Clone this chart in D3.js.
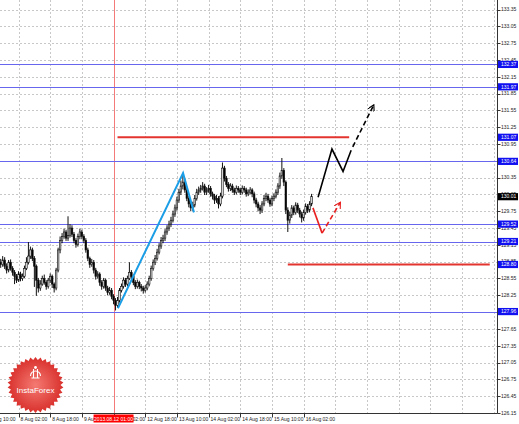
<!DOCTYPE html>
<html><head><meta charset="utf-8">
<script src="https://cdn.jsdelivr.net/npm/d3@7"></script>
<style>html,body{margin:0;padding:0;background:#fff;}svg{display:block;font-family:"Liberation Sans",Arial,sans-serif;}</style>
</head><body>
<svg id="c" width="519" height="424"></svg>
<script>
// ---------- DATA ----------
const firstOpen = 128.84;
const closes = [
128.80,128.88,128.77,128.70,128.84,128.73,128.66,128.59,128.52,128.63,
128.55,128.59,128.73,128.84,128.95,129.06,128.91,128.77,128.52,128.38,
128.45,128.55,128.48,128.41,128.52,128.59,128.45,128.38,128.70,129.06,
129.23,129.30,129.38,129.27,129.32,129.45,129.34,129.23,129.16,129.30,
129.38,129.30,129.23,129.06,128.91,128.80,128.84,128.70,128.59,128.63,
128.48,128.41,128.52,128.38,128.30,128.34,128.23,128.16,128.07,128.16,
128.34,128.41,128.52,128.45,128.55,128.66,128.59,128.48,128.41,128.48,
128.41,128.38,128.34,128.38,128.45,128.55,128.73,128.84,128.91,129.02,
129.13,129.23,129.27,129.38,129.45,129.52,129.59,129.70,129.81,129.95,
130.09,130.20,130.27,130.13,129.98,129.88,129.81,129.86,129.98,130.09,
130.13,130.16,130.20,130.09,130.13,130.16,130.06,130.02,129.95,129.98,
129.88,130.02,130.52,130.34,130.23,130.16,130.20,130.13,130.09,130.16,
130.13,130.09,130.16,130.13,130.06,130.09,130.13,130.06,129.95,129.88,
129.81,129.77,129.88,129.98,130.02,129.95,129.88,129.98,130.02,130.09,
130.20,130.38,130.48,130.27,129.77,129.59,129.68,129.81,129.73,129.86,
129.77,129.70,129.63,129.73,129.84,129.77,129.88,130.01];
const highs = [
128.90,128.95,128.93,128.82,128.88,128.89,128.77,128.70,128.63,128.68,
128.67,128.64,128.78,128.93,129.20,129.12,129.10,128.95,128.80,128.56,
128.52,128.60,128.62,128.52,128.56,128.64,128.62,128.48,128.74,129.10,
129.30,129.36,129.44,129.42,129.66,129.52,129.50,129.38,129.27,129.35,
129.44,129.42,129.34,129.27,129.10,128.94,128.90,128.88,128.74,128.68,
128.66,128.52,128.56,128.55,128.42,128.40,128.38,128.27,128.20,128.22,
128.38,128.46,128.57,128.56,128.60,128.84,128.70,128.62,128.52,128.53,
128.51,128.45,128.42,128.43,128.50,128.60,128.78,128.89,128.97,129.08,
129.18,129.29,129.33,129.43,129.50,129.58,129.65,129.76,129.87,130.01,
130.15,130.30,130.40,130.32,130.17,130.02,129.92,129.92,130.04,130.15,
130.19,130.22,130.27,130.24,130.18,130.22,130.20,130.10,130.06,130.04,
130.02,130.08,130.62,130.56,130.38,130.27,130.25,130.24,130.17,130.21,
130.20,130.17,130.21,130.20,130.17,130.14,130.18,130.16,130.10,129.99,
129.92,129.86,129.93,130.04,130.08,130.06,129.99,130.03,130.07,130.14,
130.25,130.44,130.70,130.52,130.30,129.82,129.74,129.86,129.85,129.91,
129.90,129.81,129.74,129.78,129.89,129.88,129.93,130.06];
const lows = [
128.74,128.76,128.72,128.64,128.66,128.69,128.60,128.45,128.47,128.49,
128.50,128.51,128.56,128.70,128.80,128.90,128.86,128.40,128.24,128.30,
128.33,128.42,128.44,128.35,128.37,128.47,128.38,128.30,128.34,128.66,
129.00,129.18,129.26,129.22,129.22,129.28,129.29,129.18,129.10,129.12,
129.25,129.25,129.18,129.01,128.86,128.74,128.76,128.64,128.53,128.55,
128.42,128.35,128.37,128.33,128.25,128.26,128.18,128.09,127.98,128.03,
128.12,128.30,128.37,128.40,128.41,128.52,128.54,128.43,128.36,128.37,
128.36,128.32,128.28,128.30,128.34,128.41,128.51,128.69,128.79,128.87,
128.98,129.08,129.18,129.22,129.33,129.40,129.47,129.55,129.65,129.76,
129.90,130.04,130.14,130.08,129.93,129.82,129.75,129.76,129.82,129.94,
130.04,130.08,130.12,130.04,130.04,130.08,130.01,129.96,129.88,129.90,
129.80,129.84,129.98,130.28,130.18,130.10,130.11,130.08,130.04,130.05,
130.08,130.04,130.05,130.08,130.01,130.02,130.05,130.00,129.89,129.82,
129.75,129.70,129.72,129.84,129.93,129.90,129.83,129.84,129.93,129.98,
130.04,130.15,130.33,130.20,129.70,129.38,129.53,129.63,129.68,129.69,
129.72,129.64,129.55,129.58,129.69,129.72,129.73,129.84];

const priceTicks = ["126.15","126.45","126.75","127.05","127.35","127.65","127.95","128.25","128.55","128.85","129.15","129.45","129.75","130.05","130.35","130.65","130.95","131.25","131.55","131.85","132.15","132.45","132.75","133.05","133.35"];
const timeTickBars = [-7,9,25,41,57,73,89,105,121,137,153];
const timeTickLabels = ["7 Aug 10:00","8 Aug 02:00","8 Aug 18:00","9 Aug 10:00","12 Aug 02:00","12 Aug 18:00","13 Aug 10:00","14 Aug 02:00","14 Aug 18:00","15 Aug 10:00","16 Aug 02:00"];
const blueLevels = [132.37,131.97,130.64,129.52,129.21,127.96];
const blueLevelLabels = ["132.37","131.97","130.64","129.52","129.21","127.96"];
const redLevels = [131.07,128.80];
const redLevelLabels = ["131.07","128.80"];
const redLevelFrom = [59,145];
const redLevelTo = [176,247];
const currentPrice = 130.01;
const cursorBar = 57;
const cursorLabel = "2013.08.12 01:00";
const trendBars = [59.2,92.1,97.6];
const trendPrices = [128.02,130.43,129.73];
const blackPathBars = [160.3,167.3,172.9,177.0];
const blackPathPrices = [130.00,130.86,130.46,130.84];
const blackDashBars = [177.8,188.3];
const blackDashPrices = [130.90,131.64];
const redPathBars = [157.7,162.3];
const redPathPrices = [129.81,129.36];
const redDashBars = [162.3,171.4];
const redDashPrices = [129.36,129.90];

// ---------- CHART ----------
const svg = d3.select("#c");
const W = 519, H = 424, plotR = 497.5, plotB = 413.5;
const y = d3.scaleLinear().domain([126.15,133.35]).range([413,9.5]);
const x = d3.scaleLinear().domain([0,16]).range([0.7,0.7+31.68]);

svg.append("rect").attr("width",W).attr("height",H).attr("fill","#fff");
const defs = svg.append("defs");
defs.append("clipPath").attr("id","clip").append("rect").attr("x",0).attr("y",0).attr("width",plotR).attr("height",plotB);
const g = svg.append("g").attr("clip-path","url(#clip)");

// grid
const gridBars = d3.range(-7,260,16);
g.selectAll(".vg").data(gridBars).join("line")
 .attr("x1",d=>Math.round(x(d))+0.5).attr("x2",d=>Math.round(x(d))+0.5)
 .attr("y1",0).attr("y2",plotB)
 .attr("stroke","#c8c8c8").attr("stroke-width",1).attr("stroke-dasharray","2,2");
g.selectAll(".hg").data(priceTicks).join("line")
 .attr("y1",d=>Math.round(y(+d))+0.5).attr("y2",d=>Math.round(y(+d))+0.5)
 .attr("x1",0).attr("x2",plotR)
 .attr("stroke","#c8c8c8").attr("stroke-width",1).attr("stroke-dasharray","2,2");

// logo
const logo = svg.append("g").attr("transform","translate(35.5,385)");
const grad = defs.append("radialGradient").attr("id","lg");
grad.append("stop").attr("offset","0%").attr("stop-color","#f47a72");
grad.append("stop").attr("offset","100%").attr("stop-color","#d9302c");
const nT = 34, pts = [];
for (let k=0;k<nT*2;k++){ const a = k*Math.PI/nT; const r = k%2===0?28:25; pts.push([r*Math.sin(a), -r*Math.cos(a)]); }
logo.append("path").attr("d",d3.line()(pts)+"Z").attr("fill","url(#lg)");
const ic = logo.append("g").attr("transform","translate(0,-12)").attr("fill","none").attr("stroke","#fff").attr("stroke-width",1.1);
ic.append("path").attr("d","M-5,3 A5,5 0 0 1 5,3");
ic.append("path").attr("d","M-2,-4 L-2,5 M2,-4 L2,5 M-4,5 L4,5");
ic.append("circle").attr("cx",0).attr("cy",-5.5).attr("r",1.4).attr("fill","#fff").attr("stroke","none");
logo.append("text").attr("x",0).attr("y",8).attr("text-anchor","middle").attr("fill","#fff")
 .attr("font-size","8px").text("InstaForex");

// cursor line
g.append("line").attr("x1",Math.round(x(cursorBar))+0.5).attr("x2",Math.round(x(cursorBar))+0.5)
 .attr("y1",0).attr("y2",plotB).attr("stroke","#f47a7a").attr("stroke-width",1);

// blue levels
g.selectAll(".bl").data(blueLevels).join("line")
 .attr("x1",0).attr("x2",plotR).attr("y1",d=>Math.round(y(d))+0.5).attr("y2",d=>Math.round(y(d))+0.5)
 .attr("stroke","#6666ee").attr("stroke-width",1);

// candles
const bars = closes.map((c,i)=>({i, o: i===0?firstOpen:closes[i-1], c, h: highs[i], l: lows[i]}));
const cg = g.append("g");
cg.selectAll(".w").data(bars).join("line")
 .attr("x1",d=>x(d.i)).attr("x2",d=>x(d.i)).attr("y1",d=>y(d.h)).attr("y2",d=>y(d.l))
 .attr("stroke","#111").attr("stroke-width",1);
cg.selectAll(".b").data(bars).join("rect")
 .attr("x",d=>x(d.i)-0.8).attr("width",1.6)
 .attr("y",d=>y(Math.max(d.o,d.c))).attr("height",d=>Math.max(0.8,Math.abs(y(d.o)-y(d.c))))
 .attr("fill",d=>d.c>=d.o?"#ddd":"#000").attr("stroke","#111").attr("stroke-width",0.6);

// red levels
redLevels.forEach((lv,k)=>{
  g.append("line").attr("x1",x(redLevelFrom[k])).attr("x2",x(redLevelTo[k]))
   .attr("y1",y(lv)).attr("y2",y(lv)).attr("stroke","#e3342f").attr("stroke-width",2);
});

// trend line
const ln = d3.line().x(d=>x(d[0])).y(d=>y(d[1]));
g.append("path").attr("d",ln(trendBars.map((b,k)=>[b,trendPrices[k]])))
 .attr("fill","none").attr("stroke","#1b9ee6").attr("stroke-width",2);

// arrows
function marker(id,color){
  defs.append("marker").attr("id",id).attr("viewBox","0 0 10 10").attr("refX",8).attr("refY",5)
   .attr("markerWidth",7).attr("markerHeight",7).attr("orient","auto").attr("markerUnits","userSpaceOnUse")
   .append("path").attr("d","M0,0 L9,5 L0,10").attr("fill","none").attr("stroke",color).attr("stroke-width",1.6);
}
marker("ab","#000"); marker("ar","#e82020");
g.append("path").attr("d",ln(blackPathBars.map((b,k)=>[b,blackPathPrices[k]])))
 .attr("fill","none").attr("stroke","#000").attr("stroke-width",1.6);
g.append("path").attr("d",ln(blackDashBars.map((b,k)=>[b,blackDashPrices[k]])))
 .attr("fill","none").attr("stroke","#000").attr("stroke-width",1.6).attr("stroke-dasharray","5,3").attr("marker-end","url(#ab)");
g.append("path").attr("d",ln(redPathBars.map((b,k)=>[b,redPathPrices[k]])))
 .attr("fill","none").attr("stroke","#e82020").attr("stroke-width",1.6);
g.append("path").attr("d",ln(redDashBars.map((b,k)=>[b,redDashPrices[k]])))
 .attr("fill","none").attr("stroke","#e82020").attr("stroke-width",1.6).attr("stroke-dasharray","5,3").attr("marker-end","url(#ar)");

// frame
svg.append("line").attr("x1",plotR).attr("x2",plotR).attr("y1",0).attr("y2",plotB).attr("stroke","#333");
svg.append("line").attr("x1",0).attr("x2",plotR).attr("y1",plotB).attr("y2",plotB).attr("stroke","#333");

// right axis
const fs = "5px";
const ra = svg.append("g");
ra.selectAll("line").data(priceTicks).join("line")
 .attr("x1",plotR).attr("x2",plotR+3).attr("y1",d=>Math.round(y(+d))+0.5).attr("y2",d=>Math.round(y(+d))+0.5).attr("stroke","#333");
ra.selectAll("text").data(priceTicks).join("text")
 .attr("x",501).attr("y",d=>y(+d)+1.8).attr("font-size",fs).attr("fill","#222").text(d=>d);

function tag(val,label,fill){
  const yy = y(val);
  svg.append("rect").attr("x",plotR+0.5).attr("y",yy-3.6).attr("width",20).attr("height",7.2).attr("fill",fill);
  svg.append("text").attr("x",501).attr("y",yy+1.8).attr("font-size",fs).attr("fill","#fff").text(label);
}
blueLevels.forEach((v,k)=>tag(v,blueLevelLabels[k],"#1010f0"));
redLevels.forEach((v,k)=>tag(v,redLevelLabels[k],"#1010f0"));
tag(currentPrice,currentPrice.toFixed(2),"#000");

// bottom axis
const ba = svg.append("g");
ba.selectAll("line").data(timeTickBars).join("line")
 .attr("x1",d=>Math.round(x(d))+0.5).attr("x2",d=>Math.round(x(d))+0.5).attr("y1",plotB).attr("y2",plotB+4).attr("stroke","#333");
ba.selectAll("text").data(timeTickBars).join("text")
 .attr("x",d=>x(d)+2).attr("y",420.5).attr("font-size",fs).attr("fill","#222").text((d,k)=>timeTickLabels[k]);
const cx = x(cursorBar);
svg.append("rect").attr("x",cx-20).attr("y",414.5).attr("width",40).attr("height",8).attr("fill","#ff0000");
svg.append("text").attr("x",cx).attr("y",420.5).attr("text-anchor","middle").attr("font-size",fs).attr("fill","#fff").text(cursorLabel);
</script>
</body></html>
